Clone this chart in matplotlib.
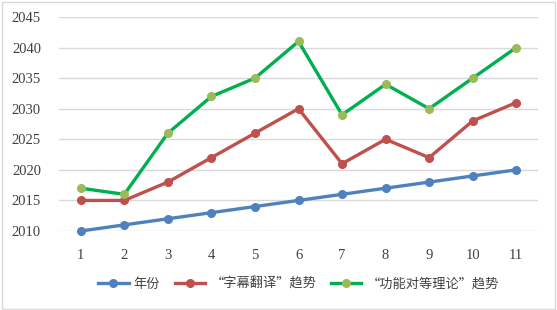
import matplotlib.pyplot as plt
from matplotlib.patches import Rectangle

plt.rcParams['font.family'] = ['Noto Sans CJK SC', 'DejaVu Sans']

# dados
x = [1, 2, 3, 4, 5, 6, 7, 8, 9, 10, 11]
anos = [2010, 2011, 2012, 2013, 2014, 2015, 2016, 2017, 2018, 2019, 2020]
legenda = [2015, 2015, 2018, 2022, 2026, 2030, 2021, 2025, 2022, 2028, 2031]
funcional = [2017, 2016, 2026, 2032, 2035, 2041, 2029, 2034, 2030, 2035, 2040]
rotulos = ['年份', '“字幕翻译”趋势', '“功能对等理论”趋势']
yticks = [2010, 2015, 2020, 2025, 2030, 2035, 2040, 2045]

fig = plt.figure(figsize=(5.57, 3.10), dpi=100)
ax = fig.add_axes([59/557, 1 - 231/310, 479/557, 214/310])

ax.plot(x, anos, color='#4F81BD', lw=2.4, marker='o', ms=5.5, label=rotulos[0])
ax.plot(x, legenda, color='#C0504D', lw=2.4, marker='o', ms=5.5, label=rotulos[1])
ax.plot(x, funcional, color='#00B050', lw=2.4, marker='o', ms=5.5,
        mfc='#9BBB59', mec='#9BBB59', label=rotulos[2])

ax.set_xlim(0.5, 11.5)
ax.set_ylim(2010, 2045)
ax.set_xticks(x)
ax.set_yticks(yticks)
ax.set_xticklabels([str(v) for v in x], family='Liberation Serif', fontsize=10.5, color='#404040')
ax.set_yticklabels([str(v) for v in yticks], family='Liberation Serif', fontsize=10.5, color='#404040')
ax.tick_params(length=0, pad=13)
ax.tick_params(axis='y', pad=13)
ax.grid(axis='y', color='#D9D9D9', lw=1)
ax.set_axisbelow(True)
for s in ax.spines.values():
    s.set_visible(False)
for line in ax.get_lines():
    line.set_clip_on(False)

ax.legend(loc='center', bbox_to_anchor=(0.5, -0.25), ncol=3, frameon=False,
          fontsize=9.5, handlelength=2.3, columnspacing=1.1, handletextpad=0.4,
          labelcolor='#404040')

fig.patches.append(Rectangle((0.003, 0.004), 0.993, 0.99, transform=fig.transFigure,
                             fill=False, edgecolor='#D9D9D9', lw=1))

plt.savefig('out.png', dpi=100)
